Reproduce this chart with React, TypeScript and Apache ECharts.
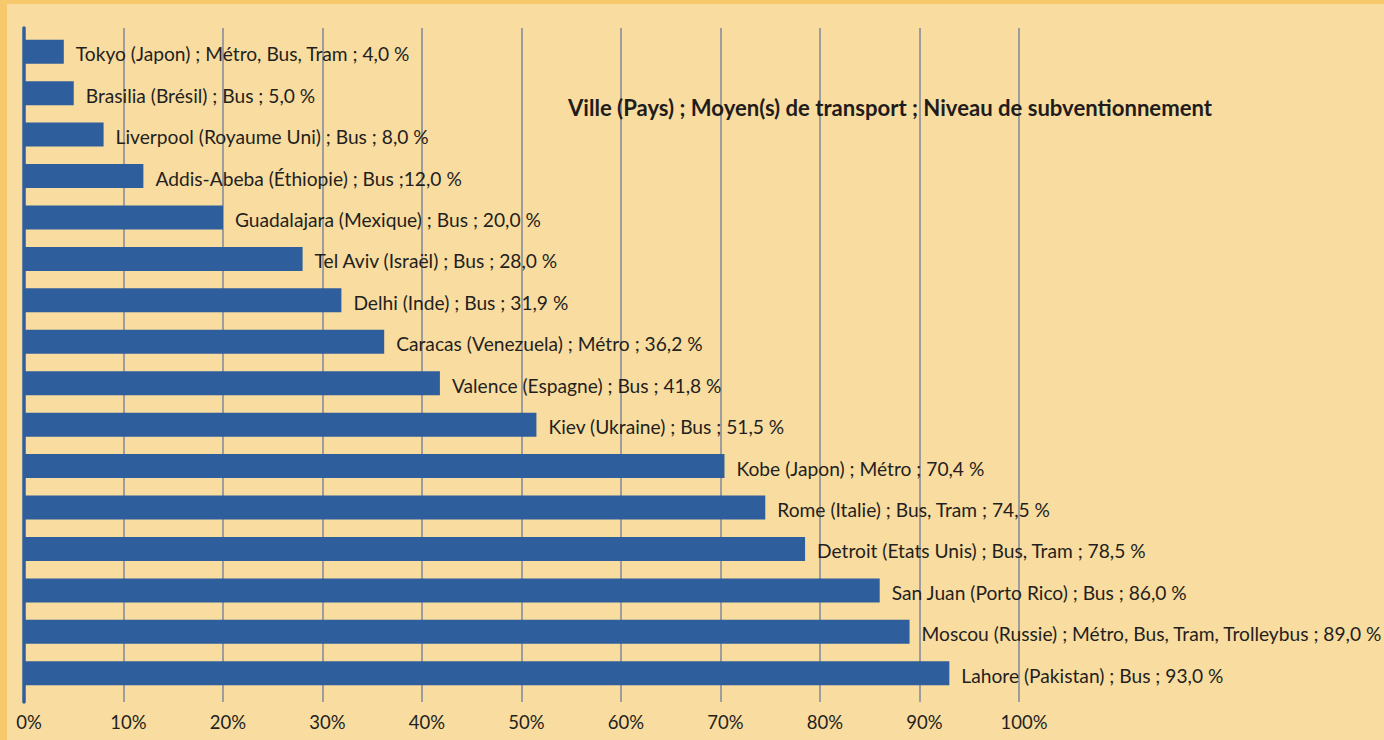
import React, { useEffect, useRef } from "react";
import * as echarts from "echarts";

const labels = [
  "Tokyo (Japon) ; Métro, Bus, Tram ; 4,0 %",
  "Brasilia (Brésil) ; Bus ; 5,0 %",
  "Liverpool (Royaume Uni) ; Bus ; 8,0 %",
  "Addis-Abeba (Éthiopie) ; Bus ;12,0 %",
  "Guadalajara (Mexique) ; Bus ; 20,0 %",
  "Tel Aviv (Israël) ; Bus ; 28,0 %",
  "Delhi (Inde) ; Bus ; 31,9 %",
  "Caracas (Venezuela) ; Métro ; 36,2 %",
  "Valence (Espagne) ; Bus ; 41,8 %",
  "Kiev (Ukraine) ; Bus ; 51,5 %",
  "Kobe (Japon) ; Métro ; 70,4 %",
  "Rome (Italie) ; Bus, Tram ; 74,5 %",
  "Detroit (Etats Unis) ; Bus, Tram ; 78,5 %",
  "San Juan (Porto Rico) ; Bus ; 86,0 %",
  "Moscou (Russie) ; Métro, Bus, Tram, Trolleybus ; 89,0 %",
  "Lahore (Pakistan) ; Bus ; 93,0 %",
];
const values = [4.0, 5.0, 8.0, 12.0, 20.0, 28.0, 31.9, 36.2, 41.8, 51.5, 70.4, 74.5, 78.5, 86.0, 89.0, 93.0];
const title = "Ville (Pays) ; Moyen(s) de transport ; Niveau de subventionnement";

const FONT = "Lato, 'Open Sans', sans-serif";

export default function App() {
  const ref = useRef<HTMLDivElement>(null);
  useEffect(() => {
    if (!ref.current) return;
    const chart = echarts.init(ref.current, undefined, { renderer: "svg" });
    chart.setOption({
      animation: false,
      backgroundColor: "transparent",
      textStyle: { fontFamily: FONT },
      graphic: [
        {
          type: "text",
          x: 568,
          y: 107,
          z: 10,
          style: {
            text: title,
            fontFamily: FONT,
            fontWeight: "bold",
            fontSize: 22.1,
            fill: "#1f1c1c",
            verticalAlign: "middle",
          },
        },
      ],
      grid: [
        { left: 24, right: 365, top: 28, bottom: 38 },
        { left: 24, right: 365, top: 31, height: 663 },
      ],
      xAxis: [
        {
          type: "value",
          gridIndex: 0,
          min: 0,
          max: 100,
          interval: 10,
          axisLine: { show: false },
          axisTick: { show: false },
          splitLine: { show: true, lineStyle: { color: "#9d9d9d", width: 2 } },
          axisLabel: {
            formatter: (v: number) => v + "%",
            fontSize: 18.5,
            color: "#231f20",
            margin: 10,
            padding: [0, 0, 0, 10],
            fontFamily: FONT,
          },
        },
        {
          type: "value",
          gridIndex: 1,
          min: 0,
          max: 100,
          show: false,
        },
      ],
      yAxis: [
        {
          type: "value",
          gridIndex: 0,
          offset: 2,
          axisLine: { show: true, lineStyle: { color: "#2f5e9d", width: 3.5 } },
          axisTick: { show: false },
          axisLabel: { show: false },
          splitLine: { show: false },
        },
        {
          type: "category",
          gridIndex: 1,
          inverse: true,
          data: labels,
          show: false,
        },
      ],
      series: [
        {
          type: "bar",
          xAxisIndex: 1,
          yAxisIndex: 1,
          data: values,
          barWidth: 24,
          itemStyle: { color: "#2f5e9d" },
          label: {
            show: true,
            position: "right",
            distance: 12,
            offset: [0, 2],
            fontSize: 19.2,
            color: "#231f20",
            fontFamily: FONT,
            formatter: (p: any) => labels[p.dataIndex],
          },
        },
      ],
    });
    return () => chart.dispose();
  }, []);
  return (
    <div style={{ position: "fixed", left: 0, top: 0, width: 1384, height: 740, background: "#f8c86c", overflow: "hidden" }}>
      <div style={{ position: "absolute", left: 7, top: 4, right: 0, bottom: 0, background: "#f9dc9f" }} />
      <div ref={ref} style={{ position: "absolute", left: 0, top: 0, width: 1384, height: 740 }} />
    </div>
  );
}
